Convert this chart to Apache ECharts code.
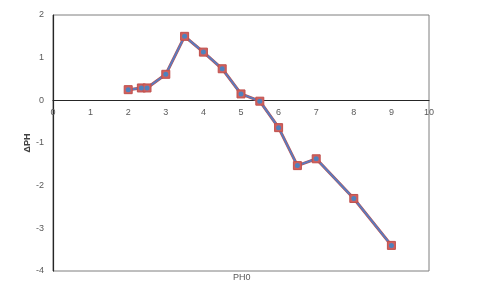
<!DOCTYPE html>
<html><head><meta charset="utf-8">
<script src="https://cdn.jsdelivr.net/npm/echarts@6/dist/echarts.min.js"></script>
<style>html,body{margin:0;padding:0;background:#fff}#c{width:494px;height:304px}</style>
</head><body><div id="c"></div>
<script>
const xValues = [2, 2.35, 2.5, 3, 3.5, 4, 4.5, 5, 5.5, 6, 6.5, 7, 8, 9];
const yValues = [0.25, 0.29, 0.29, 0.61, 1.5, 1.13, 0.74, 0.15, -0.02, -0.64, -1.53, -1.37, -2.3, -3.4];
const xName = 'PH0';
const yName = 'ΔPH';
const chart = echarts.init(document.getElementById('c'));
const lab = {color:'#595959', fontSize:9, fontFamily:'Liberation Sans, Arial, sans-serif'};
const pts = xValues.map((x,i)=>[x,yValues[i]]);
chart.setOption({
  animation:false,
  grid:{left:53,right:65,top:15,bottom:33,show:true,borderColor:'#7f7f7f',borderWidth:1},
  title:{text:xName,left:228,top:268,textStyle:{color:'#595959',fontSize:9,fontWeight:'normal',fontFamily:'Liberation Sans, Arial, sans-serif'}},
  xAxis:{type:'value',min:0,max:10,interval:1,
    axisLine:{onZero:true,lineStyle:{color:'#262626',width:1.2}},
    axisTick:{show:false},splitLine:{show:false},
    axisLabel:Object.assign({margin:-163},lab)},
  yAxis:{type:'value',min:-4,max:2,interval:1,name:yName,nameLocation:'middle',nameGap:21,nameRotate:90,
    nameMoveOverlap:false,
    nameTextStyle:{color:'#404040',fontSize:9,fontWeight:'bold',fontFamily:'Liberation Sans, Arial, sans-serif'},
    axisLine:{show:true,lineStyle:{color:'#262626',width:1.2}},
    axisTick:{show:false},splitLine:{show:false},
    axisLabel:Object.assign({margin:9},lab)},
  series:[
    {type:'line',data:pts,symbol:'rect',symbolSize:8,
     lineStyle:{color:'#c0504d',width:3},
     itemStyle:{color:'#d0605d',borderColor:'#c0504d',borderWidth:1}},
    {type:'line',data:pts,symbol:'circle',symbolSize:5,
     lineStyle:{color:'#5b7bbd',width:2},
     itemStyle:{color:'#4f81bd',borderWidth:0}}
  ]
});
</script></body></html>
